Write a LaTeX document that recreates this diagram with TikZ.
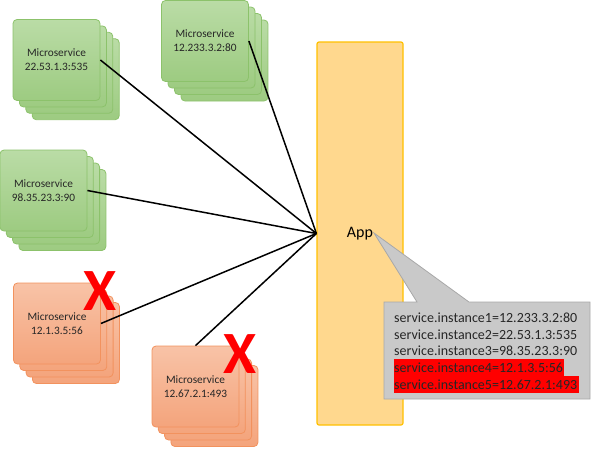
\documentclass[tikz,border=0pt]{standalone}
\usepackage{fontspec}
\setmainfont{Carlito}
\definecolor{gborder}{HTML}{8CC26B}
\definecolor{gtop}{HTML}{BADCA6}
\definecolor{gbot}{HTML}{9DCB81}
\definecolor{oborder}{HTML}{F2925E}
\definecolor{otop}{HTML}{F8C3A7}
\definecolor{obot}{HTML}{F4A47C}
\definecolor{appfill}{HTML}{FFD88E}
\definecolor{appborder}{HTML}{FFC000}
\definecolor{callfill}{HTML}{C9C9C9}
\definecolor{callborder}{HTML}{A8A8A8}
\definecolor{txt}{HTML}{262626}
\tikzset{
  msbox/.style={draw=#1border, rounded corners=4pt, minimum width=87pt,
    minimum height=81pt, inner sep=0pt, line width=0.8pt,
    top color=#1top, bottom color=#1bot, text=txt,
    font=\fontsize{11.3}{14}\selectfont, align=center},
  appbox/.style={draw=appborder, fill=appfill, rounded corners=2pt,
    line width=1.2pt, minimum width=86pt, minimum height=383pt, inner sep=0pt,
    font=\fontsize{16}{18}\selectfont, text=black},
  conn/.style={draw=black, line width=1.5pt},
  callout/.style={draw=callborder, fill=callfill, line width=0.8pt},
  calltext/.style={anchor=base west, inner sep=0pt, text=txt,
    font=\fontsize{14}{16}\selectfont},
  redx/.style={inner sep=0pt, text=red, font=\fontsize{60}{60}\selectfont\bfseries},
}
\begin{document}
\begin{tikzpicture}[x=1pt,y=-1pt]
\useasboundingbox (0,0) rectangle (591,448);
% stack 1
\foreach \k in {3,2,1} \node[msbox=g] (s1b\k) at (56.5+6.4*\k, 60+6.4*\k) {};
\node[msbox=g] (s1) at (56.5,60) {Microservice\\22.53.1.3:535};
% stack 2
\foreach \k in {3,2,1} \node[msbox=g] (s2b\k) at (205+6.5*\k, 41+6.5*\k) {};
\node[msbox=g] (s2) at (205,41) {Microservice\\12.233.3.2:80};
% stack 3
\foreach \k in {3,2,1} \node[msbox=g] (s3b\k) at (43.5+6.3*\k, 190.5+6.5*\k) {};
\node[msbox=g] (s3) at (43.5,190.5) {Microservice\\98.35.23.3:90};
% stack 4
\foreach \k in {3,2,1} \node[msbox=o] (s4b\k) at (57+6.3*\k, 323.5+6.5*\k) {};
\node[msbox=o] (s4) at (57,323.5) {Microservice\\12.1.3.5:56};
% stack 5
\foreach \k in {3,2,1} \node[msbox=o] (s5b\k) at (195.5+6.3*\k, 386.5+6.5*\k) {};
\node[msbox=o] (s5) at (195.5,386.5) {Microservice\\12.67.2.1:493};
% app
\node[appbox] (app) at (360,233.5) {App};
% connectors
\draw[conn] (s1.east) -- (app.west);
\draw[conn] (s2.east) -- (app.west);
\draw[conn] (s3.east) -- (app.west);
\draw[conn] (s4.east) -- (app.west);
\draw[conn] (s5.north) -- (app.west);
% red crosses
\node[redx] (x4) at (100,291) {X};
\node[redx] (x5) at (240.5,354) {X};
% callout
\coordinate (tip) at (374,233);
\draw[callout] (384,302) -- (417,302) -- (tip) -- (469,302) -- (590,302)
  -- (590,399) -- (384,399) -- cycle;
\fill[red] (394,359) rectangle (564,376);
\fill[red] (394,376) rectangle (579,393);
\node[calltext] (l1) at (394,322.5) {service.instance1=12.233.3.2:80};
\node[calltext] (l2) at (394,339.2) {service.instance2=22.53.1.3:535};
\node[calltext] (l3) at (394,355.9) {service.instance3=98.35.23.3:90};
\node[calltext] (l4) at (394,372.6) {service.instance4=12.1.3.5:56};
\node[calltext] (l5) at (394,389.3) {service.instance5=12.67.2.1:493};
\end{tikzpicture}
\end{document}
